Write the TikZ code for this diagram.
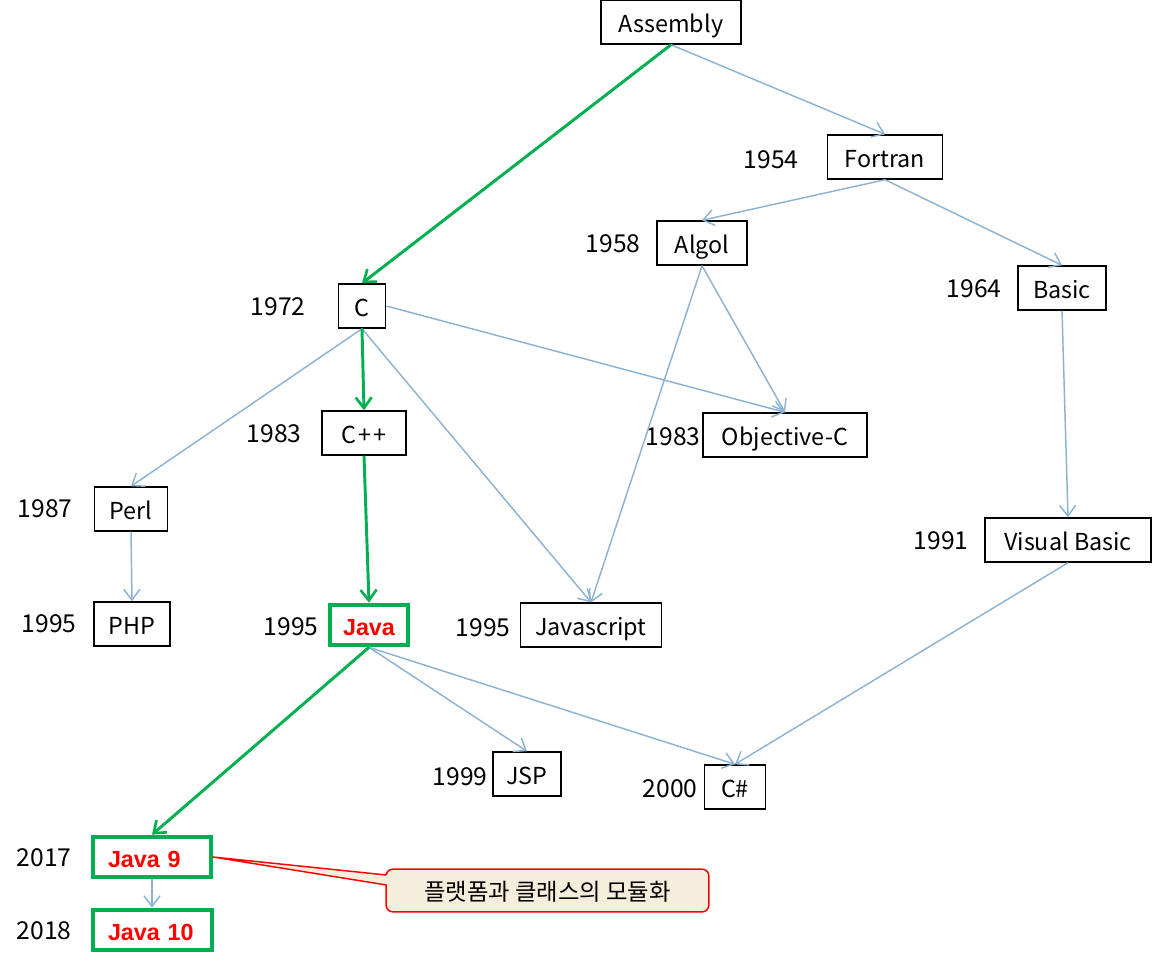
\documentclass[tikz,border=0pt]{standalone}
\usepackage{fontspec}
\setmainfont{Noto Sans CJK KR}
\newfontfamily\javafont{Liberation Sans}
\usetikzlibrary{arrows.meta}
\definecolor{linkblue}{HTML}{8DB3D3}
\definecolor{pathgreen}{HTML}{00B050}
\definecolor{calloutfill}{HTML}{F6EEDD}
\tikzset{
  lang/.style={draw=black, line width=1.1pt, minimum height=33pt, inner sep=0pt, text height=15.5pt, text depth=0pt, font=\fontsize{17.5}{20}\selectfont},
  javabox/.style={draw=pathgreen, line width=3pt, minimum height=30.5pt, inner sep=0pt, text height=15pt, text depth=0pt, text=red, font=\javafont\bfseries\fontsize{17.5}{20}\selectfont},
  year/.style={font=\fontsize{18.5}{21}\selectfont, inner sep=0pt},
  link/.style={draw=linkblue, line width=1.1pt, -{Straight Barb[length=8pt,width=12pt]}},
  mainlink/.style={draw=pathgreen, line width=2.2pt, -{Straight Barb[length=8pt,width=12pt,line width=2pt]}},
}
\begin{document}
\begin{tikzpicture}[x=0.75pt, y=-0.75pt]
\useasboundingbox (0,0) rectangle (1152,960);

% nodes
\node[lang, minimum width=105pt] (asm) at (671,22) {Assembly};
\node[lang, minimum width=86.25pt] (fortran) at (885,157) {Fortran};
\node[lang, minimum width=67.5pt] (algol) at (702,243) {Algol};
\node[lang, minimum width=66pt] (basic) at (1062,288) {Basic};
\node[lang, minimum width=35.25pt] (c) at (362,306) {C};
\node[lang, minimum width=63pt] (cpp) at (364,433) {C\kern1.5pt+\kern1.5pt+};
\node[lang, minimum width=123pt] (objc) at (785,435) {Objective-C};
\node[lang, minimum width=54.75pt] (perl) at (131,509) {Perl};
\node[lang, minimum width=124.5pt] (vb) at (1068,540) {Visual Basic};
\node[lang, minimum width=57pt] (php) at (132,624) {PHP};
\node[javabox, minimum width=58.5pt] (java) at (369,625) {Java};
\node[lang, minimum width=105.75pt] (js) at (591,625) {Javascript};
\node[lang, minimum width=51pt] (jsp) at (527,774) {JSP};
\node[lang, minimum width=45.75pt] (cs) at (735,787) {C\#};
\node[javabox, minimum width=88.5pt, text width=66pt, align=left] (java9) at (152,857) {Java 9};
\node[javabox, minimum width=89.25pt, text width=66pt, align=left] (java10) at (152,930) {Java 10};

% years
\node[year] (y1954) at (771,160) {1954};
\node[year] (y1958) at (613,244) {1958};
\node[year] (y1964) at (974,289) {1964};
\node[year] (y1972) at (278,307) {1972};
\node[year] (y1983a) at (274,434) {1983};
\node[year] (y1983b) at (673,437) {1983};
\node[year] (y1987) at (45,509) {1987};
\node[year] (y1991) at (941,541) {1991};
\node[year] (y1995a) at (49,624) {1995};
\node[year] (y1995b) at (291,627) {1995};
\node[year] (y1995c) at (483,628) {1995};
\node[year] (y1999) at (460,777) {1999};
\node[year] (y2000) at (670,789) {2000};
\node[year] (y2017) at (44,858) {2017};
\node[year] (y2018) at (44,931) {2018};

% blue links
\draw[link] (asm.south) -- (fortran.north);
\draw[link] (fortran.south) -- (algol.north);
\draw[link] (fortran.south) -- (basic.north);
\draw[link] (algol.south) -- (objc.north);
\draw[link] (algol.south) -- (js.north);
\draw[link] (c.east) -- (objc.north);
\draw[link] (c.south) -- (perl.north);
\draw[link] (c.south) -- (js.north);
\draw[link] (basic.south) -- (vb.north);
\draw[link] (perl.south) -- (php.north);
\draw[link] (java.south) -- (jsp.north);
\draw[link] (java.south) -- (cs.north);
\draw[link] (vb.south) -- (cs.north);
\draw[link] (java9.south) -- (java10.north);

% green path
\draw[mainlink] (asm.south) -- (c.north);
\draw[mainlink] (c.south) -- (cpp.north);
\draw[mainlink] (cpp.south) -- (java.north);
\draw[mainlink] (java.south) -- (java9.north);

% callout
\node[draw=red, line width=1.1pt, fill=calloutfill, rounded corners=5pt,
      minimum width=242pt, minimum height=32pt, inner sep=0pt, text height=15pt, text depth=0pt,
      font=\fontsize{17.5}{20}\selectfont] (note) at (547.5,890.5) {플랫폼과 클래스의 모듈화};
\coordinate (ptop) at (386.5,875);
\coordinate (pbot) at (386.5,885);
\fill[calloutfill] (java9.east) -- (ptop) -- ([xshift=3pt]ptop) -- ([xshift=3pt]pbot) -- (pbot) -- cycle;
\draw[red, line width=1.1pt, line join=round] (ptop) -- (java9.east) -- (pbot);
\end{tikzpicture}
\end{document}
